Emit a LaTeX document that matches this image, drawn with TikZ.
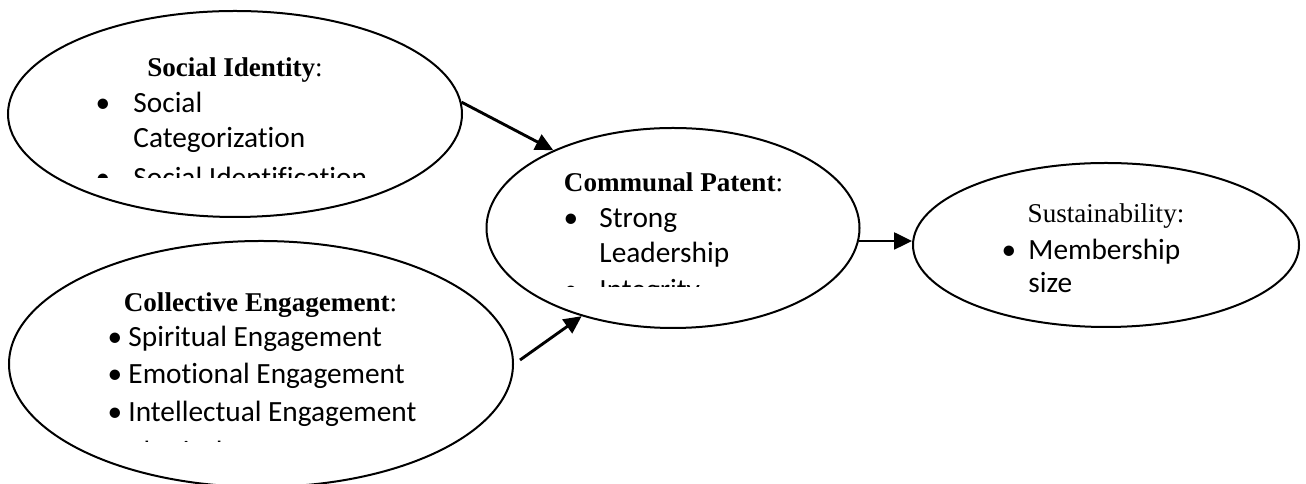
\documentclass[tikz,border=0pt]{standalone}
\usepackage{fontspec}
\setmainfont{Liberation Serif}
\newfontfamily\calib[Ligatures=NoCommon,RawFeature={-liga;-clig;-dlig}]{Carlito}
\usetikzlibrary{shapes.geometric,arrows.meta}
\begin{document}
\begin{tikzpicture}[x=0.45pt,y=-0.45pt,
  oval/.style={draw,ellipse,line width=0.9pt,inner sep=0pt},
  arr/.style={line width=1.3pt,-{Triangle[length=8pt,width=7.5pt]}},
  head/.style={anchor=base,inner sep=0pt,font=\fontsize{12.2}{14}\selectfont},
  item/.style={anchor=base west,inner sep=0pt,font=\calib\fontsize{13.2}{16}\selectfont},
  bul/.style={anchor=base,inner sep=0pt,font=\calib\fontsize{13.2}{16}\selectfont}]
\useasboundingbox (0,0) rectangle (1306,484);
% ellipses
\node[oval,minimum width=454*0.45pt,minimum height=206*0.45pt] (e1) at (235,114) {};
\node[oval,minimum width=504*0.45pt,minimum height=246*0.45pt] (e2) at (261,364) {};
\node[oval,minimum width=373*0.45pt,minimum height=200*0.45pt] (e3) at (673,228) {};
\node[oval,minimum width=386*0.45pt,minimum height=164*0.45pt] (e4) at (1106,245) {};
% Social Identity
\node[head] (h1) at (235,77) {\textbf{Social Identity}:};
\begin{scope}
\clip (0,0) rectangle (470,178);
\node[bul] (b11) at (103,113) {•};
\node[item] (t11) at (133,113) {Social};
\node[item] (t12) at (133,148) {Categorization};
\node[bul] (b13) at (103,188) {•};
\node[item] (t13) at (133,188) {Social Identification};
\end{scope}
% Collective Engagement
\node[head] (h2) at (260.5,312) {\textbf{Collective Engagement}:};
\begin{scope}
\clip (0,0) rectangle (520,442);
\node[bul] (b21) at (115,347) {•};
\node[item] (t21) at (128,347) {Spiritual Engagement};
\node[bul] (b22) at (115,384) {•};
\node[item] (t22) at (128,384) {Emotional Engagement};
\node[bul] (b23) at (115,422) {•};
\node[item] (t23) at (128,422) {Intellectual Engagement};
\node[bul] (b24) at (115,462) {•};
\node[item] (t24) at (128,462) {Physical Engagement};
\end{scope}
% Communal Patent
\node[head] (h3) at (673.5,192) {\textbf{Communal Patent}:};
\begin{scope}
\clip (480,0) rectangle (870,287);
\node[bul] (b31) at (571,228) {•};
\node[item] (t31) at (599,228) {Strong};
\node[item] (t32) at (599,263) {Leadership};
\node[bul] (b33) at (571,300) {•};
\node[item] (t33) at (599,300) {Integrity};
\end{scope}
% Sustainability
\node[head] (h4) at (1106,223) {Sustainability:};
\node[bul] (b41) at (1009,260) {•};
\node[item] (t41) at (1028,260) {Membership};
\node[item] (t42) at (1028,293) {size};
% connectors
\coordinate (a2s) at (520,360);
\draw[arr] (e1.3) -- (e3.147.7);
\draw[arr] (a2s) -- (e3.224.7);
\draw[arr] (e3.-4) -- (e3.-4 -| e4.west);
\end{tikzpicture}
\end{document}
